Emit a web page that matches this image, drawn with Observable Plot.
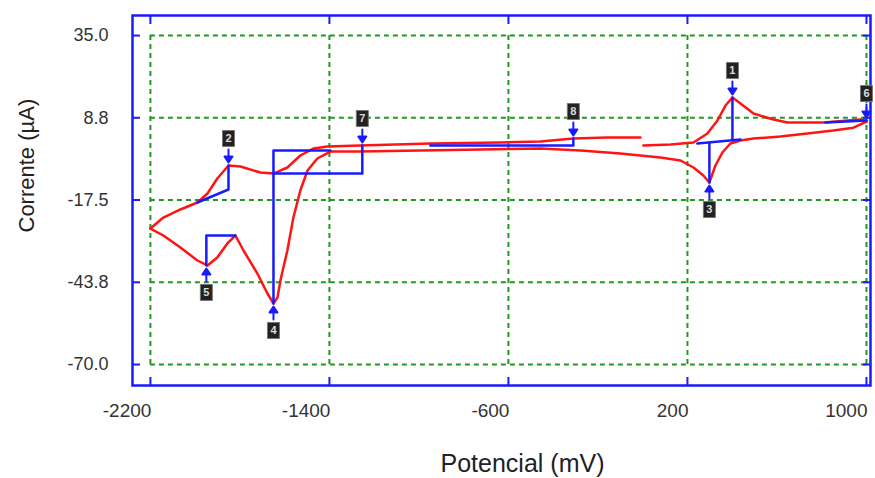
<!DOCTYPE html>
<html>
<head>
<meta charset="utf-8">
<script src="https://cdn.jsdelivr.net/npm/d3@7"></script>
<script src="https://cdn.jsdelivr.net/npm/@observablehq/plot@0.6"></script>
<style>
  body { margin: 0; background: #fff; }
  #chart svg { display: block; }
</style>
</head>
<body>
<div id="chart"></div>
<script>
// Axis ticks
const xTicks = [-2200, -1400, -600, 200, 1000];
const yTicks = [35, 8.75, -17.5, -43.75, -70];

// Cathodic sweep, 1000 mV down to -2200 mV
const cathPot = [1000, 942, 852, 736, 615, 495, 437, 392, 356, 325, 298, 271, 227, 169, 79, -100, -278, -457, -725, -993, -1262, -1396, -1454, -1498, -1530, -1561, -1588, -1619, -1632, -1650, -1677, -1722, -1784, -1820, -1856, -1901, -1945, -1990, -2066, -2142, -2200];
const cathCur = [7.56, 5.6, 4.69, 3.73, 2.77, 2.13, 1.5, 0.54, -2.33, -6.48, -11.91, -9.67, -7.12, -4.89, -3.93, -2.65, -1.7, -1.06, -1.38, -1.7, -2.02, -2.02, -4.25, -8.08, -14.46, -23.08, -33.61, -43.18, -48.6, -50.52, -47.33, -40.95, -33.61, -28.82, -31.37, -35.84, -38.39, -36.8, -32.65, -28.82, -26.6];

// Anodic sweep, -2200 mV back up to 1000 mV (NaN marks a break in the record)
const anodPot = [-2200, -2142, -2066, -1990, -1945, -1901, -1851, -1798, -1708, -1650, -1588, -1530, -1472, -1409, -1262, -949, -636, -457, -310, -158, -10, -5, 3, 124, 227, 289, 334, 370, 401, 437, 495, 584, 647, 808, 973, 1000];
const anodCur = [-26.6, -23.08, -20.52, -18.29, -15.42, -10.63, -6.48, -6.8, -8.72, -9.04, -7.12, -3.29, -1.06, -0.42, -0.1, 0.54, 0.86, 1.17, 2.13, 2.45, 2.45, NaN, -0.1, 0.22, 0.86, 3.73, 7.88, 12.66, 15.22, 13.3, 10.11, 8.2, 7.24, 7.24, 8.2, 7.56];

// Peak baselines (blue construction lines), one polyline per id
const baseId  = ["a", "a", "a", "b", "b", "b", "c", "c", "c", "d", "d", "d", "e", "e", "e", "f", "f", "g", "g", "h", "h", "k", "k"];
const basePot = [-1396, -1650, -1650, -1650, -1253, -1253, -1990, -1851, -1851, -1950, -1950, -1820, -949, -310, -310, 244, 437, 401, 401, 298, 298, 817, 1000];
const baseCur = [-1.7, -1.7, -50.52, -9.04, -9.04, -0.1, -18.29, -14.14, -6.48, -38.39, -28.82, -28.82, -0.1, -0.1, 2.13, 0.54, 1.81, 15.22, 1.59, -11.91, 0.63, 7.24, 7.88];

// Peak markers
const peakLabel = ["1", "2", "3", "4", "5", "6", "7", "8"];
const peakPot   = [401, -1851, 298, -1650, -1950, 1000, -1253, -310];
const peakCur   = [15.22, -6.48, -11.91, -50.52, -38.39, 7.88, -0.1, 2.13];
const peakSide  = ["above", "above", "below", "below", "below", "above", "above", "above"];

const blue = "#1a1aff";
const red = "#ff1414";
const green = "#1f9a1f";

const cathodic = cathPot.map((E, i) => ({E, I: cathCur[i]}));
const anodic = anodPot.map((E, i) => ({E, I: anodCur[i]}));
const baselines = basePot.map((E, i) => ({id: baseId[i], E, I: baseCur[i]}));
const peaks = peakLabel.map((label, i) => ({label, E: peakPot[i], I: peakCur[i], side: peakSide[i]}));
const above = peaks.filter(d => d.side === "above");
const below = peaks.filter(d => d.side === "below");

// Arrow with a filled head; drawn pointing along -y, tip at the far end
const filledArrow = {
  draw(context, l) {
    context.moveTo(0, 0);
    context.lineTo(0, -l + 5);
    context.moveTo(-4, -l + 6);
    context.lineTo(0, -l);
    context.lineTo(4, -l + 6);
    context.closePath();
  }
};
// Small tag box behind the peak numbers
const tagBox = {
  draw(context) {
    context.rect(-6, -8, 12, 16);
  }
};

// plain hyphen-minus, no thousands separator
const fmtX = d => String(d);
const fmtY = d => d.toFixed(1);

const font = "Liberation Sans, Arial, sans-serif";

const chart = Plot.plot({
  width: 875,
  height: 478,
  marginLeft: 132,
  marginRight: 5,
  marginTop: 15,
  marginBottom: 93,
  style: {fontFamily: font, background: "#fff"},
  x: {domain: [-2280, 1018], axis: null},
  y: {domain: [-76.7, 41.4], axis: null},
  marks: [
    // dotted grid between the outer ticks
    Plot.ruleY(yTicks, {x1: xTicks[0], x2: xTicks[xTicks.length - 1], stroke: green, strokeWidth: 2, strokeDasharray: "5,4"}),
    Plot.ruleX(xTicks, {y1: yTicks[yTicks.length - 1], y2: yTicks[0], stroke: green, strokeWidth: 2, strokeDasharray: "5,4"}),
    // voltammogram
    Plot.line(cathodic, {x: "E", y: "I", stroke: red, strokeWidth: 2.5}),
    Plot.line(anodic, {x: "E", y: "I", stroke: red, strokeWidth: 2.5}),
    // baselines
    Plot.line(baselines, {x: "E", y: "I", z: "id", stroke: blue, strokeWidth: 2.5}),
    // frame and inward ticks
    Plot.frame({stroke: blue, strokeWidth: 2.5}),
    Plot.axisX(xTicks, {anchor: "bottom", tickSize: -8, stroke: blue, strokeWidth: 2, fill: "none", label: null}),
    Plot.axisX(xTicks, {anchor: "top", tickSize: -8, stroke: blue, strokeWidth: 2, fill: "none", label: null}),
    Plot.axisY(yTicks, {anchor: "left", tickSize: -8, stroke: blue, strokeWidth: 2, fill: "none", label: null}),
    Plot.axisY(yTicks, {anchor: "right", tickSize: -8, stroke: blue, strokeWidth: 2, fill: "none", label: null}),
    // tick labels
    Plot.axisX(xTicks, {anchor: "bottom", tickSize: 0, tickPadding: 18, fill: "#333", fontSize: 19, textAnchor: "end", dx: 1, tickFormat: fmtX, label: null}),
    Plot.axisY(yTicks, {anchor: "left", tickSize: 0, tickPadding: 24, fill: "#333", fontSize: 18, tickFormat: fmtY, label: null}),
    // axis titles
    Plot.text(["Potencial (mV)"], {frameAnchor: "bottom", dx: 21, dy: 78, fontSize: 25, fill: "#222", lineAnchor: "middle"}),
    Plot.text(["Corrente (µA)"], {frameAnchor: "left", dx: -106, dy: 32, rotate: -90, fontSize: 22, fill: "#222", lineAnchor: "middle"}),
    // peak arrows
    Plot.vector(above, {x: "E", y: "I", length: 13, rotate: 180, anchor: "end", dy: -3, shape: filledArrow, stroke: blue, fill: blue, strokeWidth: 2}),
    Plot.vector(below, {x: "E", y: "I", length: 13, rotate: 0, anchor: "end", dy: 3, shape: filledArrow, stroke: blue, fill: blue, strokeWidth: 2}),
    // peak tags
    Plot.dot(above, {x: "E", y: "I", symbol: tagBox, r: 7, fill: "#222", stroke: "#777", strokeWidth: 1, dy: -27}),
    Plot.dot(below, {x: "E", y: "I", symbol: tagBox, r: 7, fill: "#222", stroke: "#777", strokeWidth: 1, dy: 27}),
    Plot.text(above, {x: "E", y: "I", text: "label", fill: "#ddd", fontSize: 11, fontWeight: "bold", dy: -27}),
    Plot.text(below, {x: "E", y: "I", text: "label", fill: "#ddd", fontSize: 11, fontWeight: "bold", dy: 27})
  ]
});
document.getElementById("chart").appendChild(chart);
</script>
</body>
</html>
